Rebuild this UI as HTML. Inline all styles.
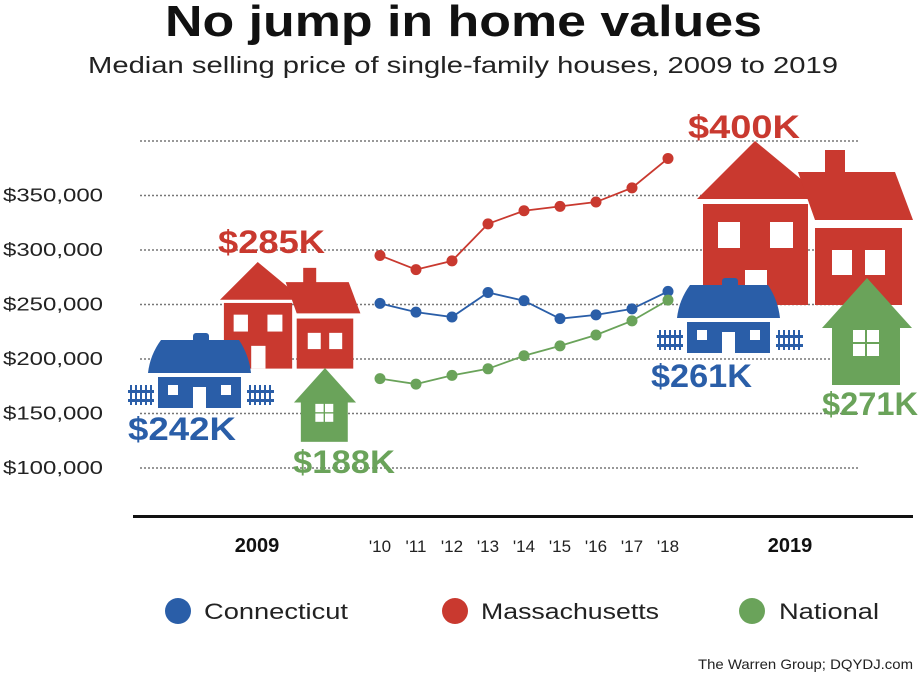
<!DOCTYPE html>
<html><head><meta charset="utf-8">
<style>
body{margin:0;background:#fff;width:920px;height:676px;overflow:hidden;font-family:"Liberation Sans",sans-serif;}
</style></head>
<body>
<svg width="920" height="676" xmlns="http://www.w3.org/2000/svg">
<defs>
<g id="redhouses">
 <polygon points="755,141 697,199 825,199" fill="#c9392f"/>
 <rect x="703" y="204" width="105" height="101" fill="#c9392f"/>
 <rect x="718" y="222" width="22" height="26" fill="#fff"/>
 <rect x="770" y="222" width="23" height="26" fill="#fff"/>
 <rect x="745" y="270" width="22" height="35" fill="#fff"/>
 <rect x="825" y="150" width="20" height="25" fill="#c9392f"/>
 <polygon points="798,172 895,172 913,220 815,220" fill="#c9392f"/>
 <rect x="815" y="228" width="87" height="77" fill="#c9392f"/>
 <rect x="832" y="250" width="20" height="25" fill="#fff"/>
 <rect x="865" y="250" width="20" height="25" fill="#fff"/>
</g>
<g id="bluehouse">
 <rect x="722" y="278" width="16" height="10" rx="3" fill="#2a5ea8"/>
 <path d="M690,285 H768 Q778,300 780,318 H677 Q679,300 690,285 Z" fill="#2a5ea8"/>
 <rect x="687" y="322" width="83" height="31" fill="#2a5ea8"/>
 <rect x="697" y="330" width="10" height="10" fill="#fff"/>
 <rect x="750" y="330" width="10" height="10" fill="#fff"/>
 <rect x="722" y="332" width="13" height="21" fill="#fff"/>
 <g fill="#2a5ea8">
  <rect x="657" y="335" width="26" height="3"/><rect x="657" y="344" width="26" height="3"/>
  <rect x="659" y="330" width="2" height="20"/><rect x="664" y="330" width="2" height="20"/><rect x="669" y="330" width="2" height="20"/><rect x="674" y="330" width="2" height="20"/><rect x="679" y="330" width="2" height="20"/>
  <rect x="776" y="335" width="27" height="3"/><rect x="776" y="344" width="27" height="3"/>
  <rect x="778" y="330" width="2" height="20"/><rect x="783" y="330" width="2" height="20"/><rect x="788" y="330" width="2" height="20"/><rect x="793" y="330" width="2" height="20"/><rect x="798" y="330" width="2" height="20"/>
 </g>
</g>
<g id="greenhouse">
 <polygon points="867,278 822,328 912,328" fill="#6aa35a"/>
 <rect x="832" y="326" width="68" height="59" fill="#6aa35a"/>
 <rect x="853" y="330" width="12" height="12" fill="#fff"/><rect x="867" y="330" width="12" height="12" fill="#fff"/>
 <rect x="853" y="344" width="12" height="12" fill="#fff"/><rect x="867" y="344" width="12" height="12" fill="#fff"/>
</g>
</defs>

<text x="165" y="36" textLength="597" lengthAdjust="spacingAndGlyphs" font-size="44" font-weight="bold" fill="#111">No jump in home values</text>
<text x="88" y="73" textLength="750" lengthAdjust="spacingAndGlyphs" font-size="23" fill="#222">Median selling price of single-family houses, 2009 to 2019</text>

<g id="grid"></g>
<g id="ylabels"></g>

<use href="#redhouses" transform="translate(220,262) scale(0.65) translate(-697,-141)"/>
<use href="#bluehouse" transform="translate(-529,55)"/>
<use href="#greenhouse" transform="translate(325,368) scale(0.69) translate(-867,-278)"/>
<use href="#redhouses"/>
<use href="#bluehouse"/>
<use href="#greenhouse"/>

<g font-weight="bold" font-size="32" lengthAdjust="spacingAndGlyphs">
<text x="218" y="253" textLength="107" lengthAdjust="spacingAndGlyphs" fill="#c9392f">$285K</text>
<text x="128" y="440" textLength="108" lengthAdjust="spacingAndGlyphs" fill="#2a5ea8">$242K</text>
<text x="293" y="473" textLength="102" lengthAdjust="spacingAndGlyphs" fill="#6aa35a">$188K</text>
<text x="688" y="138" textLength="112" lengthAdjust="spacingAndGlyphs" fill="#c9392f">$400K</text>
<text x="651" y="387" textLength="101" lengthAdjust="spacingAndGlyphs" fill="#2a5ea8">$261K</text>
<text x="822" y="415" textLength="96" lengthAdjust="spacingAndGlyphs" fill="#6aa35a">$271K</text>
</g>

<g id="series"></g>

<rect x="133" y="515" width="780" height="3" fill="#111"/>
<text x="257" y="552" text-anchor="middle" font-size="20" font-weight="bold" fill="#111">2009</text>
<text x="790" y="552" text-anchor="middle" font-size="20" font-weight="bold" fill="#111">2019</text>
<g id="xlabels"></g>

<g font-size="22" fill="#222">
<circle cx="178" cy="611" r="13" fill="#2a5ea8"/>
<text x="204" y="619" textLength="144" lengthAdjust="spacingAndGlyphs">Connecticut</text>
<circle cx="455" cy="611" r="13" fill="#c9392f"/>
<text x="481" y="619" textLength="178" lengthAdjust="spacingAndGlyphs">Massachusetts</text>
<circle cx="752" cy="611" r="13" fill="#6aa35a"/>
<text x="779" y="619" textLength="100" lengthAdjust="spacingAndGlyphs">National</text>
</g>
<text x="698" y="669" textLength="215" lengthAdjust="spacingAndGlyphs" font-size="14" fill="#222">The Warren Group; DQYDJ.com</text>
</svg>
<script>
const years = ["'10","'11","'12","'13","'14","'15","'16","'17","'18"];
const massachusetts = [295000,282000,290000,324000,336000,340000,344000,357000,384000];
const connecticut = [251000,243000,238500,261000,253500,237000,240500,246000,262000];
const national = [182000,177000,185000,191000,203000,212000,222000,235000,254000];
const yTicks = [100000,150000,200000,250000,300000,350000,400000];
const yTickLabels = ["$100,000","$150,000","$200,000","$250,000","$300,000","$350,000",""];

const NS="http://www.w3.org/2000/svg";
function y(v){return 468-(v-100000)*54.5/50000;}
function x(i){return 380+i*36;}
function mk(tag,attrs,parent){const e=document.createElementNS(NS,tag);for(const k in attrs)e.setAttribute(k,attrs[k]);parent.appendChild(e);return e;}

const grid=document.getElementById('grid'), yl=document.getElementById('ylabels');
yTicks.forEach((t,i)=>{
  const l=mk('line',{x1:140,x2:860,y1:y(t),y2:y(t),stroke:'#777','stroke-width':1.5,'stroke-dasharray':'2,2'},grid);
  
  
  if(yTickLabels[i]){
    const tx=mk('text',{x:3,y:y(t)+6,'font-size':18,fill:'#222',textLength:100,lengthAdjust:'spacingAndGlyphs'},yl);
    tx.textContent=yTickLabels[i];
    
    
  }
});
const xl=document.getElementById('xlabels');
years.forEach((yr,i)=>{
  const tx=mk('text',{x:x(i),y:552,'text-anchor':'middle','font-size':17,fill:'#222'},xl);
  tx.textContent=yr;
  
  
});
const sg=document.getElementById('series');
[[massachusetts,'#c9392f','massachusetts'],[connecticut,'#2a5ea8','connecticut'],[national,'#6aa35a','national']].forEach(([d,c,n])=>{
  const p=mk('polyline',{points:d.map((v,i)=>x(i)+','+y(v)).join(' '),fill:'none',stroke:c,'stroke-width':1.8},sg);
  
  
  d.forEach((v,i)=>{
    const ci=mk('circle',{cx:x(i),cy:y(v),r:5.5,fill:c},sg);
    
    
  });
});
</script>
</body></html>
